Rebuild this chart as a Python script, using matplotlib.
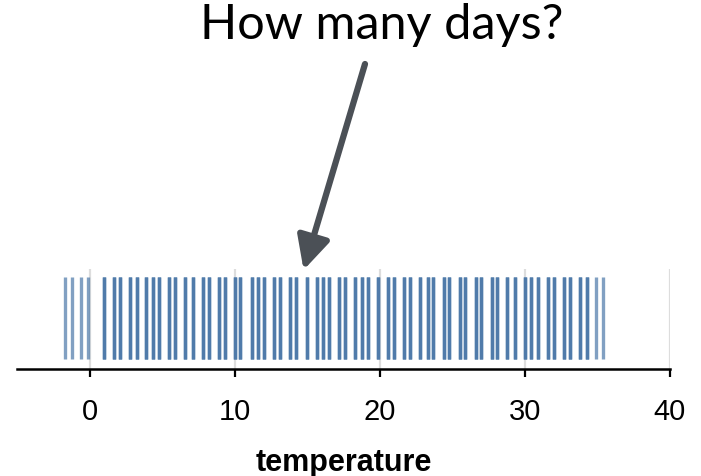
import numpy as np
import matplotlib.pyplot as plt

temps = [-1.7, -1.2, -0.6, -0.1, 1.0, 1.7, 2.1, 2.8, 3.3, 3.9, 4.4, 4.8,
         5.5, 5.9, 6.6, 7.1, 7.8, 8.2, 8.9, 9.3, 10.0, 10.4, 11.2, 11.6,
         12.0, 12.7, 13.1, 13.8, 14.2, 15.0, 15.7, 16.1, 16.5, 17.2, 17.6,
         18.3, 18.8, 19.2, 19.9, 20.6, 21.0, 21.7, 22.1, 22.8, 23.3, 23.7,
         24.4, 24.8, 25.5, 25.9, 26.6, 27.0, 27.7, 28.1, 28.8, 29.3, 30.0,
         30.4, 30.9, 31.6, 32.0, 32.7, 33.1, 33.8, 34.3, 34.9, 35.4]
days = [1, 1, 1, 1] + [3] * 61 + [1, 1]
xticks = [0, 10, 20, 30, 40]

fig = plt.figure(figsize=(7.01, 4.77), dpi=100)
ax = fig.add_axes([17 / 701, 107 / 477, 653 / 701, 100 / 477])

# each day is one tick with opacity, so busy temperatures come out darker
for t, n in zip(temps, days):
    for _ in range(n):
        ax.vlines(t, 0.1, 0.92, color='#4c78a8', alpha=0.7, lw=2.4)

ax.set_xlim(-5, 40)
ax.set_ylim(0, 1)
ax.set_xticks(xticks)
ax.set_yticks([])
ax.grid(axis='x', color='#dddddd', lw=1.6)
ax.set_axisbelow(True)
for s in ['top', 'right', 'left']:
    ax.spines[s].set_visible(False)
ax.spines['bottom'].set_linewidth(1.8)
ax.tick_params(axis='x', length=6, width=1.6, pad=14, labelsize=21)
for lab in ax.get_xticklabels():
    lab.set_family('Liberation Sans')
ax.set_xlabel('temperature', fontsize=22, fontweight='bold',
              family='Liberation Sans', labelpad=16)

fig.text(0.544, 0.948, 'How many days?', ha='center', va='center',
         fontsize=35, family='Lato', color='black')
ax.annotate('', xy=(14.75, 0.99), xycoords='data',
            xytext=(365, 412), textcoords='figure pixels',
            annotation_clip=False,
            arrowprops=dict(arrowstyle='-|>,head_length=1.0,head_width=0.5',
                            lw=4.5, color='#4b5056', mutation_scale=20,
                            shrinkA=0, shrinkB=0))

plt.savefig('out.png', dpi=100)
